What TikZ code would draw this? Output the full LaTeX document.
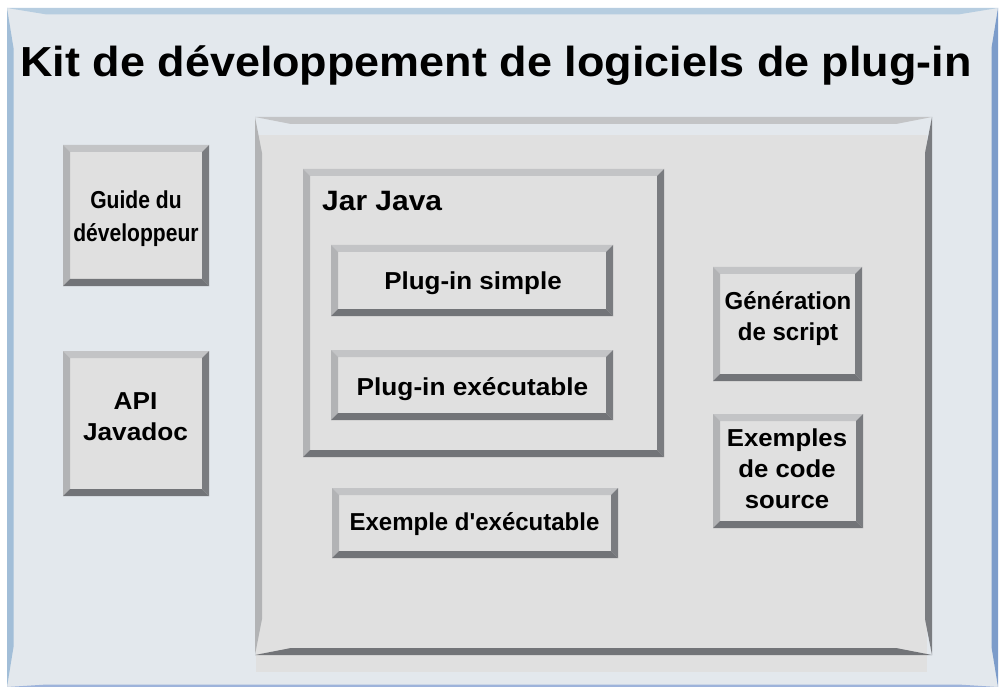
\documentclass[tikz,border=0pt]{standalone}
\usepackage{fontspec}
\usepackage{graphicx}
\setmainfont{Liberation Sans}
\definecolor{pagebg}{HTML}{E3E8ED}
\definecolor{boxfill}{HTML}{E0E0E0}
\definecolor{gtop}{HTML}{C3C4C6}
\definecolor{gleft}{HTML}{B2B3B5}
\definecolor{gright}{HTML}{7A7C80}
\definecolor{gbot}{HTML}{727478}
\definecolor{btop}{HTML}{B6CDE0}
\definecolor{bleft}{HTML}{A2BED8}
\definecolor{bright}{HTML}{7C9CCA}
\definecolor{bbot}{HTML}{9DB3DB}
\newcommand\stretchtxt[2]{\scalebox{#1}[1]{#2}}
\tikzset{
  bevw/.store in=\bevw, bevw=7pt,
  bevwb/.store in=\bevwb, bevwb=7pt,
  bevt/.store in=\bevt, bevt=7pt,
  ctop/.store in=\ctop, ctop=gtop,
  cleft/.store in=\cleft, cleft=gleft,
  cright/.store in=\cright, cright=gright,
  cbot/.store in=\cbot, cbot=gbot,
  bevel/.style={inner sep=0pt, outer sep=0pt,
    path picture={
      \fill[\ctop] (path picture bounding box.north west) -- (path picture bounding box.north east)
        -- ([shift={(-\bevt,-\bevw)}]path picture bounding box.north east)
        -- ([shift={(\bevt,-\bevw)}]path picture bounding box.north west) -- cycle;
      \fill[\cleft] (path picture bounding box.north west)
        -- ([shift={(\bevw,-\bevt)}]path picture bounding box.north west)
        -- ([shift={(\bevw,\bevt)}]path picture bounding box.south west)
        -- (path picture bounding box.south west) -- cycle;
      \fill[\cright] (path picture bounding box.north east) -- (path picture bounding box.south east)
        -- ([shift={(-\bevw,\bevt)}]path picture bounding box.south east)
        -- ([shift={(-\bevw,-\bevt)}]path picture bounding box.north east) -- cycle;
      \fill[\cbot] (path picture bounding box.south west) -- (path picture bounding box.south east)
        -- ([shift={(-\bevt,\bevwb)}]path picture bounding box.south east)
        -- ([shift={(\bevt,\bevwb)}]path picture bounding box.south west) -- cycle;
    }},
  bbox/.style={bevel, fill=boxfill},
  lbl/.style={inner sep=0pt, anchor=base, font=\bfseries},
  small/.style={lbl, font=\bfseries\fontsize{24.5}{#1}\selectfont},
  small/.default=31,
}
\begin{document}
\begin{tikzpicture}[x=1pt,y=-1pt]
\useasboundingbox (0,0) rectangle (999,687);
\fill[white] (0,0) rectangle (999,687);
% outer frame
\node[bevel, fill=pagebg, minimum width=991pt, minimum height=679pt,
      bevw=6.5pt, bevwb=2.5pt, bevt=40pt, ctop=btop, cleft=bleft, cright=bright, cbot=bbot] (frame) at (502.5,347.5) {};
\node[lbl, font=\bfseries\fontsize{42}{50}\selectfont] (title) at (496,77)
  {\stretchtxt{1.07}{Kit de développement de logiciels de plug-in}};
% big container
\node[fill=boxfill, inner sep=0pt, minimum width=671pt, minimum height=537pt] (sdkfill) at (591.5,403.5) {};
\node[bevel, minimum width=677pt, minimum height=538pt, bevw=7pt, bevwb=7pt, bevt=36pt] (sdk) at (593.5,386) {};
% left boxes
\node[bbox, minimum width=146pt, minimum height=141pt] (guide) at (136,215.5) {};
\node[small=33] (guidet) at (136,209)
  {\stretchtxt{0.86}{\begin{tabular}[t]{@{}c@{}}Guide du\\développeur\end{tabular}}};
\node[bbox, minimum width=146pt, minimum height=145pt] (api) at (136,423.5) {};
\node[small] (apit) at (135.5,409.5)
  {\stretchtxt{1.07}{\begin{tabular}[t]{@{}c@{}}API\\Javadoc\end{tabular}}};
% Jar Java
\node[bbox, minimum width=361pt, minimum height=288pt] (jar) at (483.5,313) {};
\node[lbl, anchor=base west, font=\bfseries\fontsize{28}{34}\selectfont] (jart) at (322,211)
  {\stretchtxt{1.07}{Jar Java}};
\node[bbox, minimum width=282pt, minimum height=71pt] (simple) at (472,280.5) {};
\node[small] (simplet) at (473,290)
  {\stretchtxt{1.06}{Plug-in simple}};
\node[bbox, minimum width=282pt, minimum height=70pt] (exec) at (472,385) {};
\node[small] (exect) at (472.5,395)
  {\stretchtxt{1.07}{Plug-in exécutable}};
% example
\node[bbox, minimum width=286pt, minimum height=70pt] (exemple) at (475,523) {};
\node[small] (exemplet) at (474.5,530)
  {\stretchtxt{0.98}{Exemple d\textquotesingle exécutable}};
% right boxes
\node[bbox, minimum width=149pt, minimum height=114pt] (gen) at (787.5,324) {};
\node[small] (gent) at (788,309)
  {\stretchtxt{0.98}{\begin{tabular}[t]{@{}c@{}}Génération\\de script\end{tabular}}};
\node[bbox, minimum width=150pt, minimum height=114pt] (code) at (788,471) {};
\node[small] (codet) at (787,446)
  {\stretchtxt{1.05}{\begin{tabular}[t]{@{}c@{}}Exemples\\de code\\source\end{tabular}}};
\end{tikzpicture}
\end{document}
